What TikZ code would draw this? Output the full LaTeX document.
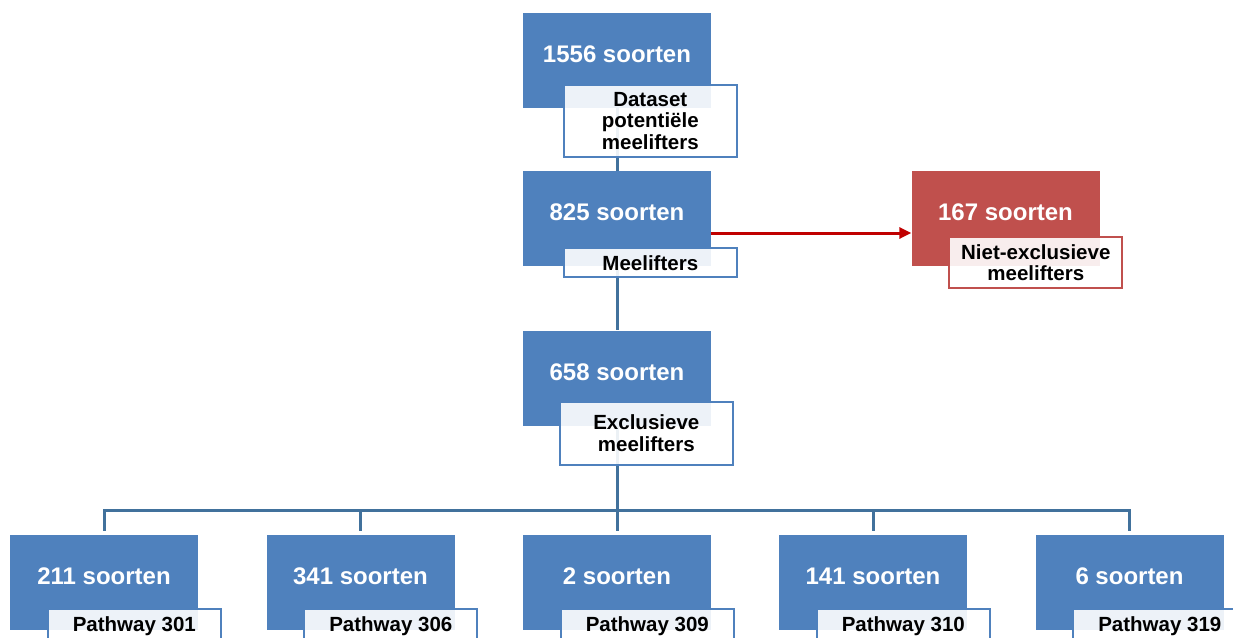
\documentclass[tikz,border=0pt]{standalone}
\usepackage{fontspec}
\setmainfont{Liberation Sans}
\usetikzlibrary{arrows.meta,positioning}
\definecolor{oblue}{HTML}{4F81BD}
\definecolor{ored}{HTML}{C0504D}
\definecolor{oarrow}{HTML}{C00000}
\definecolor{olink}{HTML}{41719C}

\begin{document}
\begin{tikzpicture}[
  x=1pt,y=-1pt,
  box/.style={fill=oblue,minimum width=188pt,minimum height=95pt,inner sep=0pt,
              text=white,font=\fontsize{24}{26}\selectfont\bfseries,
              text height=20pt,text depth=16pt},
  redbox/.style={box,fill=ored},
  lbl/.style={draw=oblue,line width=2pt,fill=white,fill opacity=0.9,
              text opacity=1,minimum width=173pt,inner xsep=3pt,inner ysep=7pt,
              align=center,font=\fontsize{20.5}{21.5}\selectfont\bfseries},
  redlbl/.style={lbl,draw=ored},
  link/.style={draw=olink,line width=3pt},
  hop/.style={draw=oarrow,line width=3pt,-{Triangle[length=12pt,width=11pt]}}
]
\useasboundingbox (0,0) rectangle (1233,637);
\clip (0,0) rectangle (1233,637);

% main chain
\node[box] (ds) at (617,60.5) {1556 soorten};
\node[box] (mee) at (617,218.5) {825 soorten};
\node[box] (excl) at (617,378) {658 soorten};
\node[redbox] (niet) at (1005.5,218.5) {167 soorten};

\draw[link] (ds) -- (mee);
\draw[link] (mee) -- (excl);
\draw[hop] ([yshift=-14.5pt]mee.east) -- ([yshift=-14.5pt]niet.west);

% split into pathways
\coordinate (split) at (617,510);
\draw[link] (excl.south) -- (split);
\foreach \cnt/\x/\pw in {211/104/301,341/360.5/306,2/617/309,141/873/310,6/1129.5/319}{
  \node[box] (p\pw) at (\x,582.5) {\cnt{} soorten};
  \draw[link,shorten >=4pt] (split) -| (p\pw.north);
  \node[lbl,below right=-22pt and 37pt of p\pw.south west] (p\pw lbl)
    {Pathway \pw};
}

\node[lbl,below right=-24pt and 40pt of ds.south west] (dslbl)
  {Dataset\\potentiële\\meelifters};
\node[lbl,below right=-19pt and 40pt of mee.south west] (meelbl) {Meelifters};
\node[lbl,minimum height=63pt,below right=-25pt and 36pt of excl.south west]
  (excllbl) {Exclusieve\\meelifters};
\node[redlbl,below right=-30pt and 37pt of niet.south west] (nietlbl)
  {Niet-exclusieve\\meelifters};
\end{tikzpicture}
\end{document}
